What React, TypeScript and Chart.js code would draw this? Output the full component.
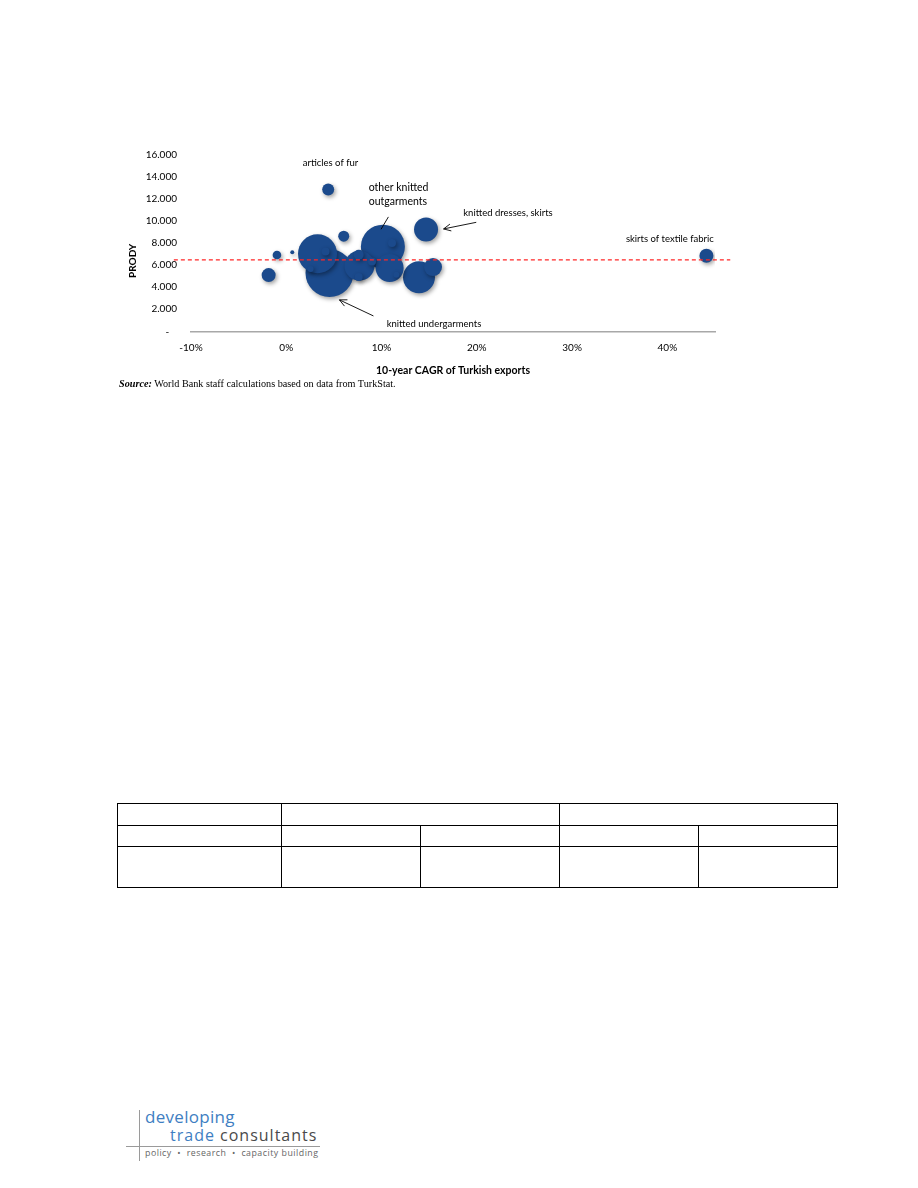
import React, { useEffect, useRef } from "react";
import { Chart, registerables } from "chart.js";

Chart.register(...registerables);

// ---- data ----
const cagrPct = [4.4, -1.85, -0.98, 0.63, 3.28, 4.54, 6.03, 4.12, 2.55, 7.68, 7.6, 7.6, 10.14, 10.85, 11.1, 11.56, 9.0, 14.67, 13.93, 15.4, 44.1];
const prodyValues = [12870, 5100, 6920, 7180, 7040, 5280, 8630, 7250, 5650, 5950, 6950, 4920, 7680, 5740, 8010, 5130, 6340, 9230, 4900, 5830, 6860];
const exportSize = [6, 7, 4.3, 2, 19.5, 24, 5.5, 4, 3, 15, 5, 4, 22, 14, 4, 3, 4, 12, 16, 9, 7];
const averageProdY = 6480;
const xTickValues = [-10, 0, 10, 20, 30, 40];
const yTickValues = [0, 2000, 4000, 6000, 8000, 10000, 12000, 14000, 16000];

// annotation labels anchored in data coordinates
const labelTexts = ["articles of fur", "other knitted", "outgarments", "knitted dresses, skirts", "skirts of textile fabric", "knitted undergarments"];
const labelAnchorX = [4.64, 8.65, 8.65, 23.27, 40.26, 15.5];
const labelAnchorY = [15236, 13024, 11803, 10747, 8379, 665];
const labelAlign = ["center", "left", "left", "center", "center", "center"];
const labelSize = [9.5, 10.5, 10.5, 9.5, 9.5, 9.5];

// pointer lines: from (x,y) to (x,y), with or without an open arrow head
const pointerFromX = [10.72, 19.94, 9.15];
const pointerFromY = [10383, 9891, 1393];
const pointerToX = [9.95, 16.51, 5.58];
const pointerToY = [9262, 9290, 2851];
const pointerHead = [false, true, true];

const FONT = "Lato, 'Open Sans', sans-serif";

function thousands(v: number) {
  return String(v).replace(/\B(?=(\d{3})+(?!\d))/g, ".");
}

const isBubble = (chart: any, index: number) => chart.data.datasets[index].type === "bubble";

const shadowPlugin = {
  id: "bubbleShadow",
  beforeDatasetDraw(chart: any, args: any) {
    if (isBubble(chart, args.index)) {
      const ctx = chart.ctx;
      ctx.save();
      ctx.shadowColor = "rgba(0,0,0,0.38)";
      ctx.shadowBlur = 4;
      ctx.shadowOffsetX = 1.5;
      ctx.shadowOffsetY = 2;
    }
  },
  afterDatasetDraw(chart: any, args: any) {
    if (isBubble(chart, args.index)) {
      chart.ctx.restore();
    }
  },
};

const annotationPlugin = {
  id: "annotations",
  afterDraw(chart: any) {
    const ctx = chart.ctx;
    const xs = chart.scales.x;
    const ys = chart.scales.y;
    ctx.save();
    // pointers
    ctx.strokeStyle = "#000";
    ctx.lineWidth = 0.9;
    for (let i = 0; i < pointerFromX.length; i++) {
      const x1 = xs.getPixelForValue(pointerFromX[i]);
      const y1 = ys.getPixelForValue(pointerFromY[i]);
      const x2 = xs.getPixelForValue(pointerToX[i]);
      const y2 = ys.getPixelForValue(pointerToY[i]);
      ctx.beginPath();
      ctx.moveTo(x1, y1);
      ctx.lineTo(x2, y2);
      ctx.stroke();
      if (pointerHead[i]) {
        const a = Math.atan2(y2 - y1, x2 - x1);
        const L = 8;
        const w = 0.45;
        ctx.beginPath();
        ctx.moveTo(x2 - L * Math.cos(a - w), y2 - L * Math.sin(a - w));
        ctx.lineTo(x2, y2);
        ctx.lineTo(x2 - L * Math.cos(a + w), y2 - L * Math.sin(a + w));
        ctx.stroke();
      }
    }
    // labels
    ctx.fillStyle = "#000";
    ctx.textBaseline = "middle";
    for (let i = 0; i < labelTexts.length; i++) {
      ctx.font = `${labelSize[i]}px ${FONT}`;
      ctx.textAlign = labelAlign[i] as CanvasTextAlign;
      ctx.fillText(labelTexts[i], xs.getPixelForValue(labelAnchorX[i]), ys.getPixelForValue(labelAnchorY[i]));
    }
    // y axis title
    ctx.font = `bold 10px ${FONT}`;
    ctx.textAlign = "center";
    ctx.translate(chart.chartArea.left - 58, ys.getPixelForValue(6400));
    ctx.rotate(-Math.PI / 2);
    ctx.fillText("PRODY", 0, 0);
    ctx.restore();
  },
};

function BubbleChart() {
  const ref = useRef<HTMLCanvasElement | null>(null);
  useEffect(() => {
    if (!ref.current) return;
    const order = cagrPct.map((_, i) => i).sort((a, b) => exportSize[b] - exportSize[a]);
    const bubbles = order.map((i) => ({ x: cagrPct[i], y: prodyValues[i], r: exportSize[i] }));
    const chart = new Chart(ref.current, {
      type: "bubble",
      data: {
        datasets: [
          {
            type: "line",
            data: [
              { x: -11.8, y: averageProdY },
              { x: 46.6, y: averageProdY },
            ],
            borderColor: "#FF2626",
            borderWidth: 1.4,
            borderDash: [4, 3],
            pointRadius: 0,
            fill: false,
            clip: false,
            order: 0,
          } as any,
          {
            type: "bubble",
            data: bubbles,
            backgroundColor: "#1B4A8C",
            borderWidth: 0,
            hoverRadius: 0,
            order: 1,
          } as any,
        ],
      },
      options: {
        animation: false,
        responsive: false,
        maintainAspectRatio: false,
        events: [],
        layout: { padding: { left: 0, right: 25, top: 24, bottom: 0 } },
        plugins: { legend: { display: false }, tooltip: { enabled: false } },
        scales: {
          x: {
            type: "linear",
            min: -10,
            max: 45,
            afterBuildTicks: (s: any) => {
              s.ticks = xTickValues.map((v) => ({ value: v }));
            },
            afterFit: (s: any) => {
              s.height = 58.7;
            },
            grid: { display: false, drawTicks: false },
            border: { display: true, color: "#A8A8A8", width: 1.6 },
            ticks: {
              padding: 10,
              color: "#000",
              font: { family: FONT, size: 10 },
              callback: (v: any) => `${v}%`,
            },
            title: {
              display: true,
              text: "10-year CAGR of Turkish exports",
              color: "#000",
              font: { family: FONT, size: 10.5, weight: "bold" },
              padding: { top: 0, bottom: 13 },
            },
          },
          y: {
            type: "linear",
            min: 0,
            max: 16000,
            afterBuildTicks: (s: any) => {
              s.ticks = yTickValues.map((v) => ({ value: v }));
            },
            afterFit: (s: any) => {
              s.width = 91;
            },
            grid: { display: false, drawTicks: false },
            border: { display: false },
            ticks: {
              padding: 14,
              color: "#000",
              font: { family: FONT, size: 10 },
              callback: (v: any) => (v === 0 ? "-   " : thousands(v)),
            },
          },
        },
      },
      plugins: [shadowPlugin, annotationPlugin],
    } as any);
    return () => chart.destroy();
  }, []);
  return (
    <canvas
      ref={ref}
      width={640}
      height={259}
      style={{ position: "absolute", left: 100, top: 131, width: 640, height: 259 }}
    />
  );
}

const td: React.CSSProperties = { border: "1.5px solid #000", padding: 0 };

export default function App() {
  return (
    <div style={{ position: "absolute", left: 0, top: 0, width: 918, height: 1188, background: "#fff", overflow: "hidden" }}>
      <BubbleChart />
      <div
        style={{
          position: "absolute",
          left: 119,
          top: 378,
          fontFamily: "'Liberation Serif', 'Times New Roman', serif",
          fontSize: 10.2,
          color: "#000",
          whiteSpace: "nowrap",
        }}
      >
        <b><i>Source:</i></b> World Bank staff calculations based on data from TurkStat.
      </div>
      <table
        style={{
          position: "absolute",
          left: 117,
          top: 803,
          width: 720,
          borderCollapse: "collapse",
          tableLayout: "fixed",
        }}
      >
        <colgroup>
          <col style={{ width: 164 }} />
          <col style={{ width: 139 }} />
          <col style={{ width: 139 }} />
          <col style={{ width: 139 }} />
          <col style={{ width: 139 }} />
        </colgroup>
        <tbody>
          <tr style={{ height: 22 }}>
            <td style={td}></td>
            <td style={td} colSpan={2}></td>
            <td style={td} colSpan={2}></td>
          </tr>
          <tr style={{ height: 21 }}>
            <td style={td}></td>
            <td style={td}></td>
            <td style={td}></td>
            <td style={td}></td>
            <td style={td}></td>
          </tr>
          <tr style={{ height: 41 }}>
            <td style={td}></td>
            <td style={td}></td>
            <td style={td}></td>
            <td style={td}></td>
            <td style={td}></td>
          </tr>
        </tbody>
      </table>
      {/* logo */}
      <div style={{ position: "absolute", left: 139, top: 1110, width: 1, height: 51, background: "#9a9a9a" }} />
      <div style={{ position: "absolute", left: 126, top: 1146, width: 194, height: 1, background: "#9a9a9a" }} />
      <div
        style={{
          position: "absolute",
          left: 145,
          top: 1110,
          fontFamily: "'Open Sans', 'Noto Sans', sans-serif",
          fontSize: 17,
          lineHeight: "14px",
          letterSpacing: 0.3,
          color: "#3E7EC2",
          whiteSpace: "nowrap",
        }}
      >
        developing
      </div>
      <div
        style={{
          position: "absolute",
          left: 170,
          top: 1129,
          fontFamily: "'Open Sans', 'Noto Sans', sans-serif",
          fontSize: 16,
          lineHeight: "13px",
          letterSpacing: 1,
          whiteSpace: "nowrap",
        }}
      >
        <span style={{ color: "#3E7EC2" }}>trade</span> <span style={{ color: "#4a4a4a" }}>consultants</span>
      </div>
      <div
        style={{
          position: "absolute",
          left: 145,
          top: 1148,
          fontFamily: "'Open Sans', 'Noto Sans', sans-serif",
          fontSize: 8.8,
          lineHeight: "11px",
          color: "#666",
          whiteSpace: "nowrap",
          letterSpacing: 0.5,
        }}
      >
        policy&nbsp;&nbsp;•&nbsp;&nbsp;research&nbsp;&nbsp;•&nbsp;&nbsp;capacity building
      </div>
    </div>
  );
}
